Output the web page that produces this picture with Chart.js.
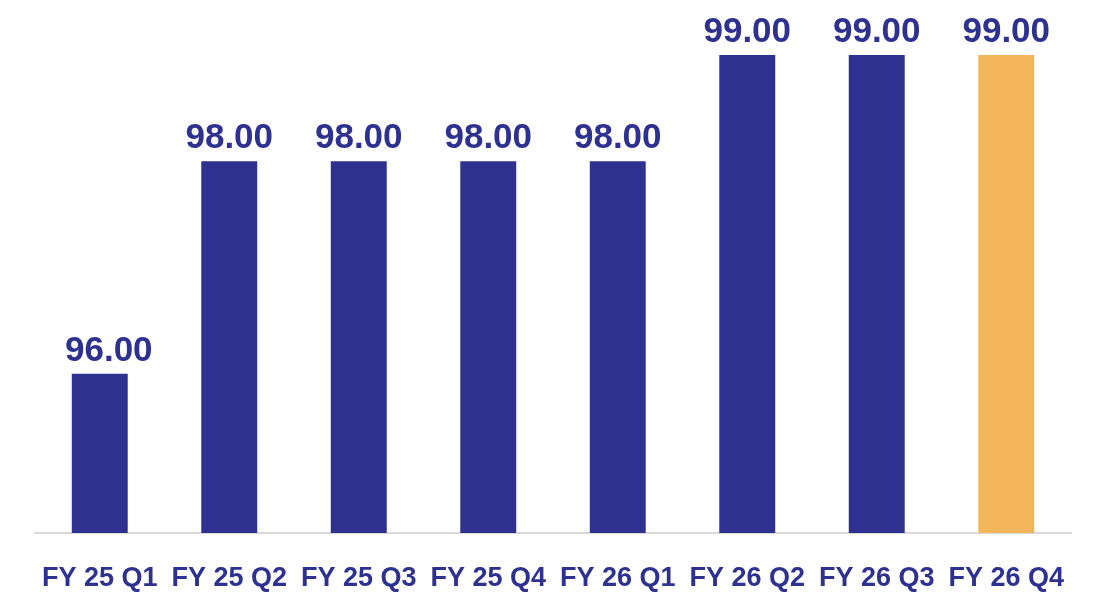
<!DOCTYPE html>
<html>
<head>
<meta charset="utf-8">
<script src="https://cdn.jsdelivr.net/npm/chart.js@4"></script>
<style>
  html, body { margin: 0; padding: 0; background: #ffffff; }
  #wrap { width: 1115px; height: 595px; }
</style>
</head>
<body>
<div id="wrap"><canvas id="c" width="1115" height="595"></canvas></div>
<script>
const categories = ['FY 25 Q1', 'FY 25 Q2', 'FY 25 Q3', 'FY 25 Q4', 'FY 26 Q1', 'FY 26 Q2', 'FY 26 Q3', 'FY 26 Q4'];
const values = [96.00, 98.00, 98.00, 98.00, 98.00, 99.00, 99.00, 99.00];
const highlighted = ['FY 26 Q4'];

const NAVY = '#2E3190';
const ORANGE = '#F2B55A';

const valueLabels = {
  id: 'valueLabels',
  afterDatasetsDraw(chart) {
    const ctx = chart.ctx;
    const meta = chart.getDatasetMeta(0);
    const area = chart.chartArea;
    ctx.save();
    ctx.font = 'bold 35px "Liberation Sans", Arial, sans-serif';
    ctx.fillStyle = NAVY;
    ctx.textAlign = 'center';
    ctx.textBaseline = 'alphabetic';
    meta.data.forEach((bar, i) => {
      const txt = values[i].toFixed(2);
      const w = ctx.measureText(txt).width;
      const x = Math.max(bar.x, area.left + 30 + w / 2);
      ctx.fillText(txt, x, bar.y - 13);
    });
    ctx.restore();
  }
};

new Chart(document.getElementById('c'), {
  type: 'bar',
  data: {
    labels: categories,
    datasets: [{
      data: values,
      backgroundColor: categories.map(c => highlighted.includes(c) ? ORANGE : NAVY),
      borderWidth: 0,
      categoryPercentage: 1.0,
      barPercentage: 0.432
    }]
  },
  options: {
    responsive: false,
    devicePixelRatio: 1,
    animation: false,
    layout: { padding: { left: 35, right: 44, top: 55, bottom: 0 } },
    plugins: { legend: { display: false }, tooltip: { enabled: false } },
    scales: {
      x: {
        grid: { display: false, drawTicks: false },
        border: { display: true, color: '#D9D9D9', width: 2 },
        ticks: {
          color: NAVY,
          font: { family: '"Liberation Sans", Arial, sans-serif', size: 27, weight: 'bold' },
          padding: 29,
          maxRotation: 0,
          autoSkip: false
        },
        afterFit(scale) { scale.height = 62; }
      },
      y: {
        display: false,
        min: 94.5,
        max: 99
      }
    }
  },
  plugins: [valueLabels]
});
</script>
</body>
</html>
